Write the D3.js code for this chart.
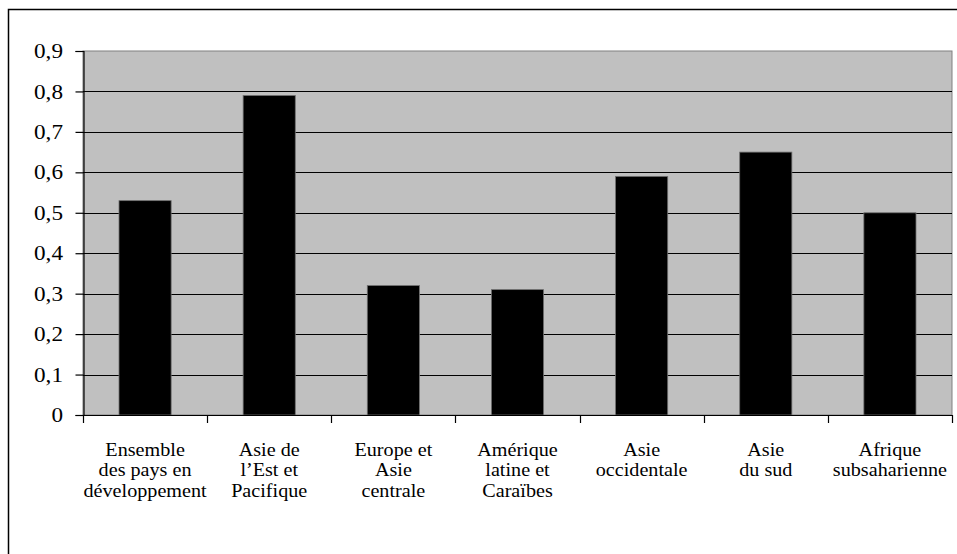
<!DOCTYPE html>
<html>
<head>
<meta charset="utf-8">
<script src="https://cdn.jsdelivr.net/npm/d3@7/dist/d3.min.js"></script>
<style>
  html, body { margin: 0; padding: 0; background: #fff; }
  svg { display: block; }
</style>
</head>
<body>
<svg id="chart" width="957" height="554"></svg>
<script>
// Regions shown along the x axis (each label split into its lines)
const categories = [
  ["Ensemble", "des pays en", "développement"],
  ["Asie de", "l’Est et", "Pacifique"],
  ["Europe et", "Asie", "centrale"],
  ["Amérique", "latine et", "Caraïbes"],
  ["Asie", "occidentale"],
  ["Asie", "du sud"],
  ["Afrique", "subsaharienne"]
];
// One value per region
const values = [0.53, 0.79, 0.32, 0.31, 0.59, 0.65, 0.50];
// Y axis ticks
const yTicks = [0, 0.1, 0.2, 0.3, 0.4, 0.5, 0.6, 0.7, 0.8, 0.9];
const yTickLabels = ["0", "0,1", "0,2", "0,3", "0,4", "0,5", "0,6", "0,7", "0,8", "0,9"];

const FONT = "Liberation Serif";
const STRETCH = 1.12; // slightly widened serif lettering
const svg = d3.select("#chart");
const plot = { left: 83, right: 952, top: 51, bottom: 415 };

// Outer chart frame (runs past the right and bottom edges of the page)
svg.append("rect")
  .attr("x", 8.5).attr("y", 9.5)
  .attr("width", 960).attr("height", 560)
  .attr("fill", "#fff").attr("stroke", "#000").attr("stroke-width", 1.5);

const ids = d3.range(categories.length);
const x = d3.scaleBand().domain(ids).range([plot.left, plot.right]).paddingInner(0.58).paddingOuter(0.29);
const xOuter = d3.scaleBand().domain(ids).range([plot.left, plot.right]);
const y = d3.scaleLinear().domain([0, 0.9]).range([plot.bottom, plot.top]);

// Plot background
svg.append("rect")
  .attr("x", plot.left).attr("y", plot.top)
  .attr("width", plot.right - plot.left).attr("height", plot.bottom - plot.top)
  .attr("fill", "#c0c0c0").attr("stroke", "#808080").attr("stroke-width", 1);

// Horizontal gridlines
svg.append("g").selectAll("line")
  .data(yTicks.filter(d => d > 0 && d < 0.9))
  .join("line")
  .attr("x1", plot.left).attr("x2", plot.right)
  .attr("y1", d => Math.round(y(d)) + 0.5).attr("y2", d => Math.round(y(d)) + 0.5)
  .attr("stroke", "#000").attr("stroke-width", 1.2);

// Bars
svg.append("g").selectAll("rect")
  .data(values)
  .join("rect")
  .attr("x", (d, i) => x(i))
  .attr("width", x.bandwidth())
  .attr("y", d => y(d))
  .attr("height", d => y(0) - y(d))
  .attr("fill", "#000")
  .attr("stroke", "#707070").attr("stroke-width", 0.8);

// Y axis
const yAxis = d3.axisLeft(y)
  .tickValues(yTicks)
  .tickFormat((d, i) => yTickLabels[i])
  .tickSize(8).tickPadding(10.3);
const gy = svg.append("g").attr("transform", `translate(${plot.left + 0.5},0)`).call(yAxis);
gy.attr("font-family", FONT);
gy.select(".domain").attr("stroke", "#000").attr("stroke-width", 1.2);
gy.selectAll(".tick line").attr("stroke", "#000").attr("stroke-width", 1.2);
gy.selectAll(".tick text")
  .style("font-family", FONT)
  .style("font-size", "20.7px")
  .attr("fill", "#000")
  .attr("transform", `scale(${STRETCH},1)`);

// X axis line with category boundary ticks
const boundaries = ids.map(i => xOuter(i)).concat([plot.right]);
const gx = svg.append("g");
gx.append("line")
  .attr("x1", plot.left).attr("x2", plot.right)
  .attr("y1", plot.bottom + 0.5).attr("y2", plot.bottom + 0.5)
  .attr("stroke", "#000").attr("stroke-width", 1.2);
gx.selectAll("line.tk")
  .data(boundaries)
  .join("line").attr("class", "tk")
  .attr("x1", d => Math.round(d) + 0.5).attr("x2", d => Math.round(d) + 0.5)
  .attr("y1", plot.bottom).attr("y2", plot.bottom + 8)
  .attr("stroke", "#000").attr("stroke-width", 1.2);

// Category labels, centred under each band
const lab = svg.append("g").selectAll("g")
  .data(categories)
  .join("g")
  .attr("transform", (d, i) => `translate(${xOuter(i) + xOuter.bandwidth() / 2},455.5) scale(${STRETCH},1)`);
lab.selectAll("text")
  .data(d => d)
  .join("text")
  .attr("text-anchor", "middle")
  .attr("y", (d, j) => j * 20.7)
  .style("font-family", FONT)
  .style("font-size", "18px")
  .attr("fill", "#000")
  .text(d => d);
</script>
</body>
</html>
